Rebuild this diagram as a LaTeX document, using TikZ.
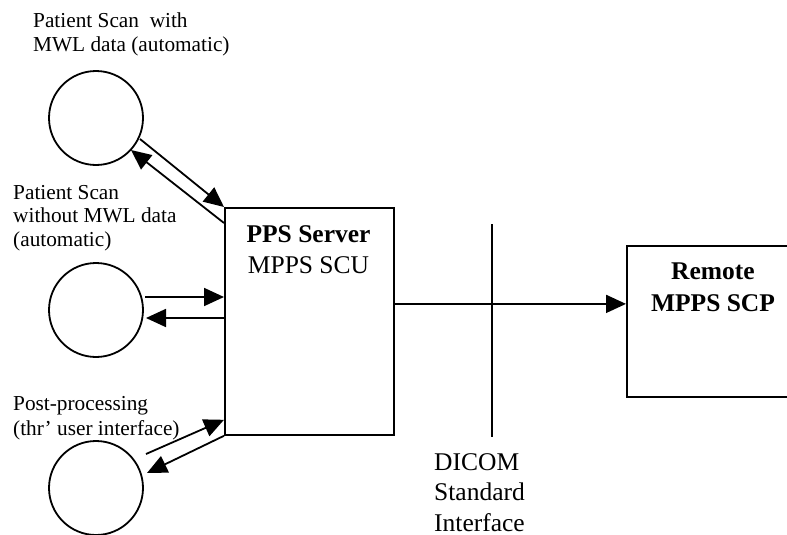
\documentclass[tikz,border=0pt]{standalone}
\usepackage{fontspec}
\setmainfont{Liberation Serif}
\usetikzlibrary{arrows.meta}
\tikzset{
  ln/.style={line width=1.8pt, line cap=butt},
  arr/.style={ln, -{Triangle[length=20pt,width=18pt]}},
  proc/.style={circle, draw, line width=1.8pt, minimum size=94pt, inner sep=0pt},
  box/.style={draw, line width=1.8pt, inner sep=0pt, anchor=north west},
  small/.style={inner sep=0pt, align=left, anchor=base west, font=\fontsize{21.3}{24}\selectfont},
  big/.style={inner sep=0pt, align=center, anchor=base, font=\fontsize{25.5}{31}\selectfont},
  bigl/.style={inner sep=0pt, align=left, anchor=base west, font=\fontsize{25.5}{30.5}\selectfont}
}
\begin{document}
\begin{tikzpicture}[x=1pt, y=-1pt]
\useasboundingbox (0,0) rectangle (787,535);
\clip (0,0) rectangle (787,535);
% processes
\node[proc] (c1) at (96,118) {};
\node[proc] (c2) at (96,310) {};
\node[proc] (c3) at (96,488) {};
% boxes
\node[box, minimum width=169pt, minimum height=227pt] (pps) at (224,207) {};
\node[box, minimum width=174pt, minimum height=151pt] (remote) at (626,245) {};
% box texts (anchor base = baseline of the last line)
\node[big] (ppstxt) at (308.5,273) {\textbf{PPS Server}\\MPPS SCU};
\node[big, font=\fontsize{25.5}{32}\selectfont\bfseries] (remtxt) at (713,311) {Remote\\MPPS SCP};
% labels
\node[small] (lab1) at (33,52) {Patient Scan\ \ with\\MWL data (automatic)};
\node[small, font=\fontsize{21.3}{23.5}\selectfont] (lab2) at (13,246) {Patient Scan\\without MWL data\\(automatic)};
\node[small, font=\fontsize{21.3}{25}\selectfont] (lab3) at (13,435) {Post-processing\\(thr’ user interface)};
\node[bigl] (dicom) at (434,531) {DICOM\\Standard\\Interface};
% connector end points
\coordinate (a1s) at (140,139);
\coordinate (a1e) at (131,150);
\coordinate (a2s) at (145,297);
\coordinate (a2e) at (146,318);
\coordinate (a3s) at (146,454);
\coordinate (a3e) at (147,473);
\coordinate (dtop) at (492,224);
\coordinate (dbot) at (492,437);
% connectors
\draw[arr] (a1s) -- (pps.north west);
\draw[arr] ([yshift=-16pt]pps.north west) -- (a1e);
\draw[arr] (a2s) -- ([yshift=-90pt]pps.north west);
\draw[arr] ([yshift=-111pt]pps.north west) -- (a2e);
\draw[arr] (a3s) -- ([yshift=16pt]pps.south west);
\draw[arr] (pps.south west) -- (a3e);
\draw[arr] ([yshift=17.5pt]pps.east) -- ([yshift=17.5pt]remote.west);
\draw[ln] (dtop) -- (dbot);
\end{tikzpicture}
\end{document}
